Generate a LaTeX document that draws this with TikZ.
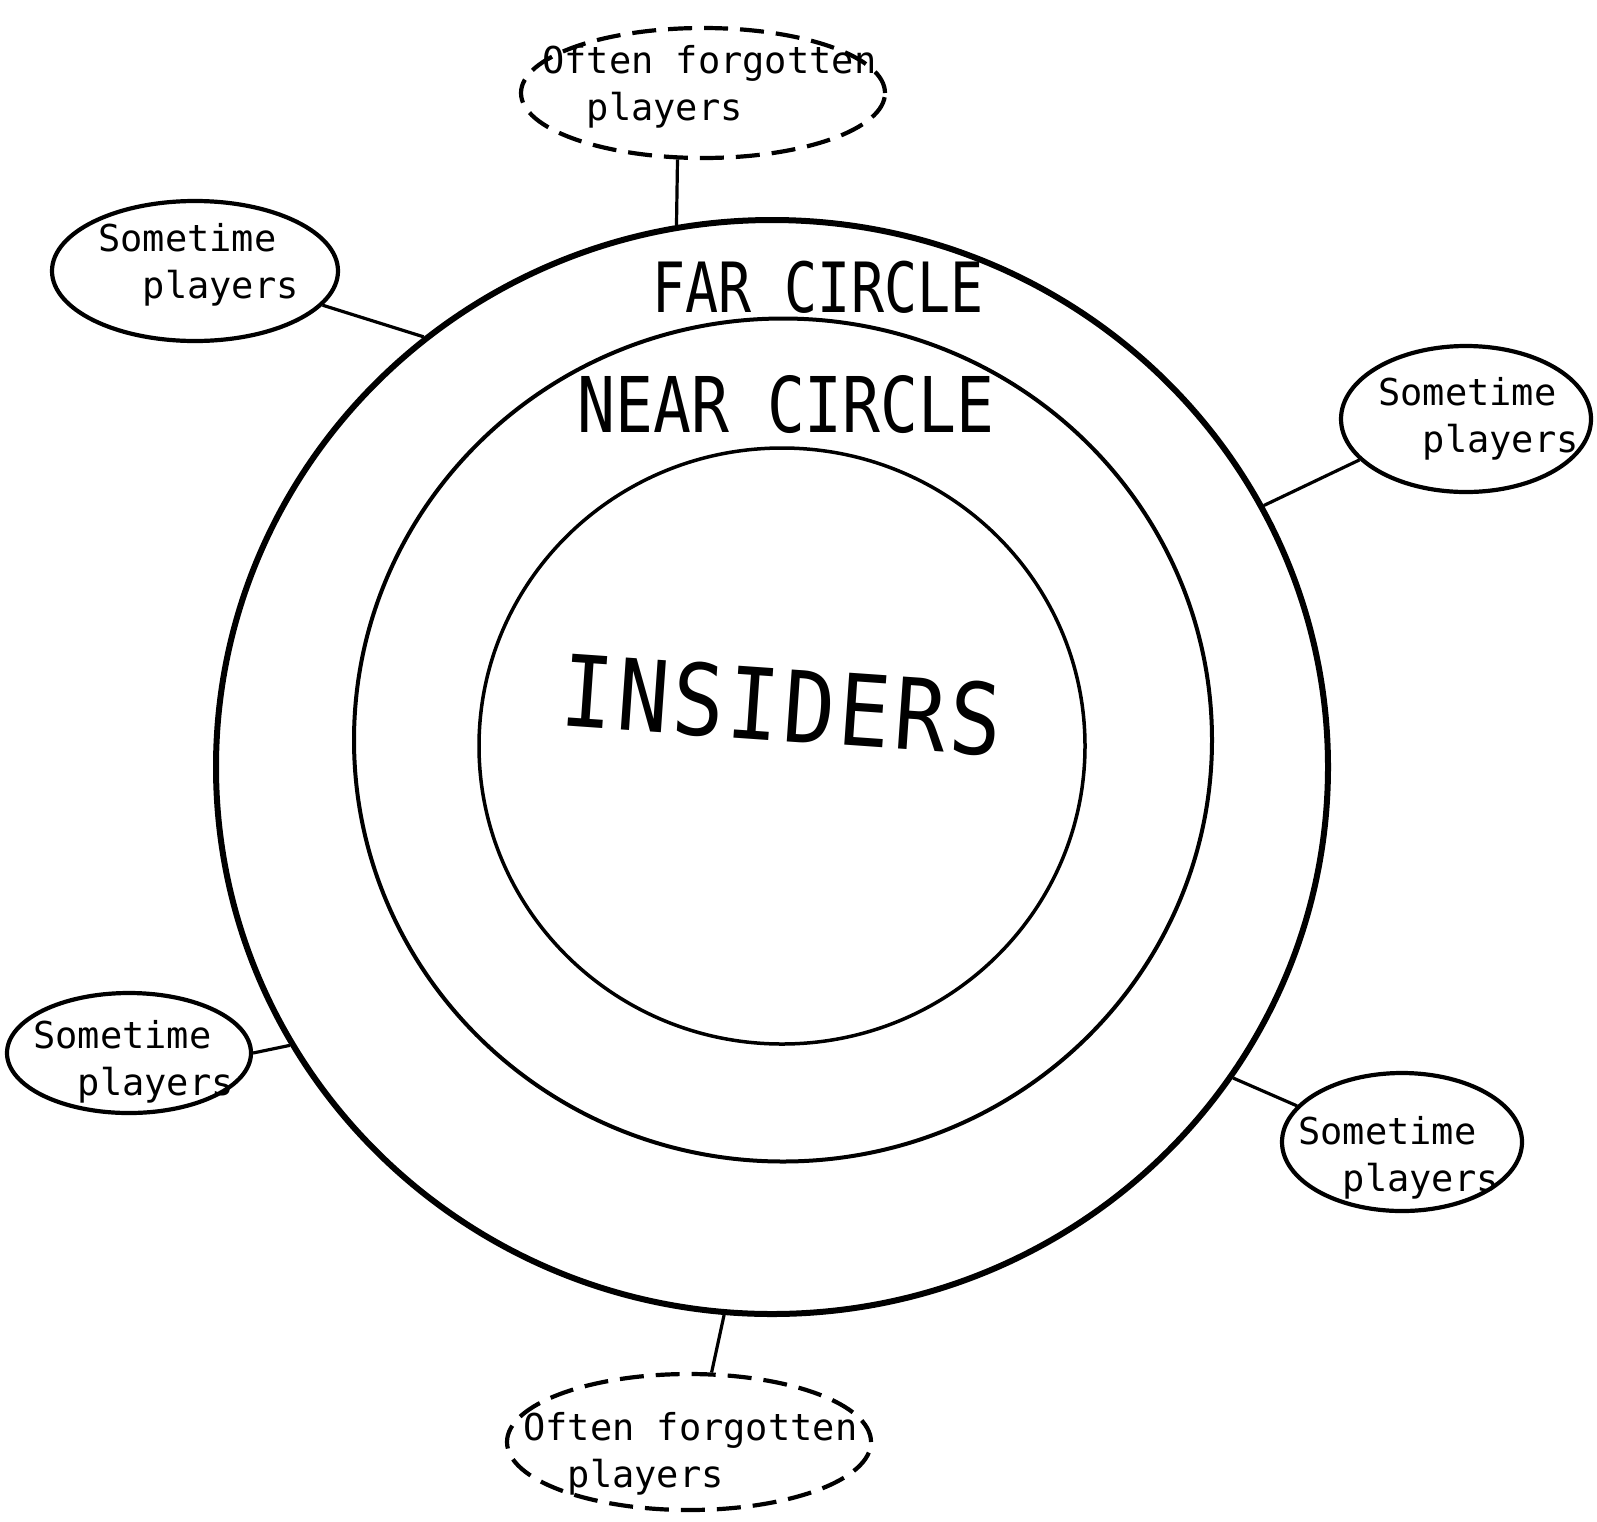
\documentclass[tikz,border=0pt]{standalone}
\usepackage{fontspec}
\newfontfamily\dotfont{DejaVu Sans Mono}
\usetikzlibrary{shapes.geometric}

\begin{document}
\begin{tikzpicture}[x=1pt,y=-1pt,
    ring/.style={draw,ellipse,inner sep=0pt},
    bubble/.style={draw,ellipse,inner sep=0pt,line width=4.2pt},
    lost/.style={bubble,dash pattern=on 24pt off 12pt},
    tag/.style={font=\dotfont\fontsize{37}{47}\selectfont,align=left,inner sep=0pt,anchor=base west},
    link/.style={line width=3.2pt}]
  \useasboundingbox (0,0) rectangle (1597,1521);
  % --- the three circles ---
  \node[ring,line width=6pt,minimum width=1112pt,minimum height=1094pt] (far) at (772,767) {};
  \node[ring,line width=4pt,minimum width=858pt,minimum height=843pt] (near) at (783,740) {};
  \node[ring,line width=3.5pt,minimum width=606pt,minimum height=596pt] (ins) at (782,746) {};
  \node[font=\dotfont\fontsize{55}{55}\selectfont] (farlbl) at (818,287) {\scalebox{1}[1.26]{FAR CIRCLE}};
  \node[font=\dotfont\fontsize{63}{63}\selectfont] (nearlbl) at (786,405) {\scalebox{1}[1.22]{NEAR CIRCLE}};
  \node[font=\dotfont\fontsize{86}{86}\selectfont\addfontfeature{LetterSpace=4.4},rotate=-4] (inslbl) at (782,705) {\scalebox{1}[1.15]{INSIDERS}};
  % --- outside players ---
  \node[lost,minimum width=364pt,minimum height=130pt] (top) at (703,93) {};
  \node[bubble,minimum width=286pt,minimum height=140pt] (sp1) at (195,271) {};
  \node[bubble,minimum width=250pt,minimum height=146pt] (sp2) at (1466,419) {};
  \node[bubble,minimum width=244pt,minimum height=120pt] (sp3) at (129,1053) {};
  \node[bubble,minimum width=240pt,minimum height=138pt] (sp4) at (1402,1142) {};
  \node[lost,minimum width=364pt,minimum height=136pt] (bot) at (689,1442) {};
  \node[tag] (toptxt) at (542,120) {Often forgotten\\\phantom{xx}players};
  \node[tag] (sp1txt) at (98,298) {Sometime\\\phantom{xx}players};
  \node[tag] (sp2txt) at (1378,452) {Sometime\\\phantom{xx}players};
  \node[tag] (sp3txt) at (33,1095) {Sometime\\\phantom{xx}players};
  \node[tag] (sp4txt) at (1298,1191) {Sometime\\\phantom{xx}players};
  \node[tag] (bottxt) at (523,1487) {Often forgotten\\\phantom{xx}players};
  % --- connectors ---
  \draw[link] (top.249) -- (far.100);
  \draw[link] (sp1.345) -- (far.129);
  \draw[link] (sp2.201) -- (far.28);
  \draw[link] (sp3.0) -- (far.210);
  \draw[link] (sp4.161) -- (far.326);
  \draw[link] (bot.72) -- (far.265);
\end{tikzpicture}
\end{document}
